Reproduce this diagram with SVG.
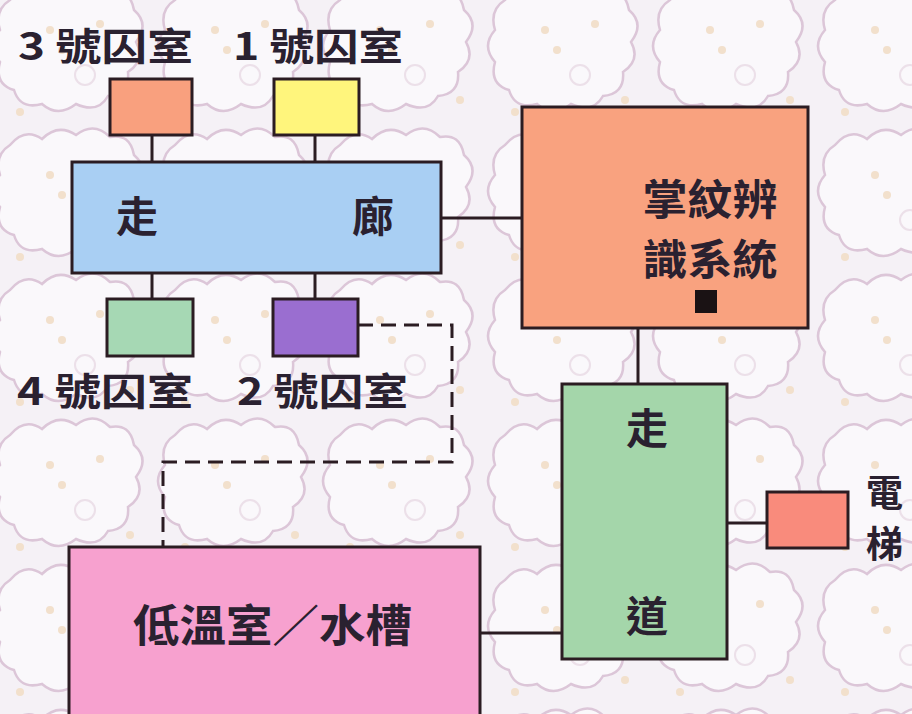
<svg xmlns="http://www.w3.org/2000/svg" width="912" height="714" viewBox="0 0 912 714">
  <defs>
    <pattern id="bgpat" x="-10" y="-20" width="165" height="145" patternUnits="userSpaceOnUse">
      <rect width="165" height="145" fill="#f5f1f6"/>
      <path d="M20 20 q15 -18 32 -6 q16 -16 34 -4 q18 -14 34 2 q20 -4 24 18 q16 14 2 32 q10 18 -8 30 q2 22 -20 24 q-10 18 -32 8 q-18 14 -34 0 q-22 6 -28 -14 q-20 -6 -14 -28 q-14 -16 0 -32 q-6 -20 10 -30 z" fill="#faf8fb" stroke="#dcc6d8" stroke-width="2.5"/>
      <circle cx="60" cy="50" r="4" fill="#f2e0cc"/>
      <circle cx="72" cy="70" r="4" fill="#f2e0cc"/>
      <circle cx="110" cy="44" r="4" fill="#f2e0cc"/>
      <circle cx="140" cy="120" r="4" fill="#f2e0cc"/>
      <circle cx="30" cy="132" r="4" fill="#f2e0cc"/>
      <circle cx="95" cy="95" r="10" fill="none" stroke="#ece0e9" stroke-width="2"/>
    </pattern>
  </defs>
  <style>
    .box { stroke: #2b1c22; stroke-width: 3; }
    .conn { stroke: #2b1c22; stroke-width: 3; fill: none; }
    .dash { stroke: #2b1c22; stroke-width: 3; fill: none; stroke-dasharray: 15 8; }
    .t { font-family: "Noto Sans CJK TC", "Noto Sans CJK JP", "Noto Sans", sans-serif; font-weight: 700; fill: #2a2130; }
  </style>
  <rect width="912" height="714" fill="url(#bgpat)"/>

  <g id="connectors">
    <line class="conn" x1="152" y1="135" x2="152" y2="162"/>
    <line class="conn" x1="315" y1="135" x2="315" y2="162"/>
    <line class="conn" x1="152" y1="273" x2="152" y2="299"/>
    <line class="conn" x1="315" y1="273" x2="315" y2="299"/>
    <line class="conn" x1="441" y1="218" x2="522" y2="218"/>
    <line class="conn" x1="638" y1="328" x2="638" y2="384"/>
    <line class="conn" x1="727" y1="523" x2="767" y2="523"/>
    <line class="conn" x1="480" y1="633" x2="562" y2="633"/>
    <path class="dash" d="M358 325 H452 V462 H163 V547"/>
  </g>

  <g id="cell3">
    <rect class="box" x="110" y="79" width="82" height="56" fill="#f9a07e"/>
    <text class="t" x="18" y="60" font-size="38" textLength="175" lengthAdjust="spacingAndGlyphs">3 號囚室</text>
  </g>
  <g id="cell1">
    <rect class="box" x="274" y="79" width="85" height="56" fill="#fff57c"/>
    <text class="t" x="233" y="60" font-size="38" textLength="170" lengthAdjust="spacingAndGlyphs">1 號囚室</text>
  </g>
  <g id="corridor">
    <rect class="box" x="72" y="162" width="369" height="111" fill="#a9cff3"/>
    <text class="t" x="137" y="232" font-size="42" text-anchor="middle">走</text>
    <text class="t" x="373" y="232" font-size="42" text-anchor="middle">廊</text>
  </g>
  <g id="cell4">
    <rect class="box" x="107" y="299" width="86" height="57" fill="#a6d8b4"/>
    <text class="t" x="17" y="405" font-size="38" textLength="176" lengthAdjust="spacingAndGlyphs">4 號囚室</text>
  </g>
  <g id="cell2">
    <rect class="box" x="273" y="299" width="85" height="57" fill="#9a6ed0"/>
    <text class="t" x="237" y="405" font-size="38" textLength="171" lengthAdjust="spacingAndGlyphs">2 號囚室</text>
  </g>
  <g id="palmprint">
    <rect class="box" x="522" y="107" width="286" height="221" fill="#f9a27f"/>
    <text class="t" x="710" y="215" font-size="42" text-anchor="middle" textLength="135" lengthAdjust="spacingAndGlyphs">掌紋辨</text>
    <text class="t" x="710" y="275" font-size="42" text-anchor="middle" textLength="135" lengthAdjust="spacingAndGlyphs">識系統</text>
    <rect x="695" y="290" width="22" height="23" fill="#1a1214"/>
  </g>
  <g id="walkway">
    <rect class="box" x="562" y="384" width="165" height="275" fill="#a4d6aa"/>
    <text class="t" x="647" y="444" font-size="42" text-anchor="middle">走</text>
    <text class="t" x="647" y="632" font-size="42" text-anchor="middle">道</text>
  </g>
  <g id="elevator">
    <rect class="box" x="767" y="492" width="81" height="56" fill="#f98b7c"/>
    <text class="t" x="866" y="507" font-size="37">電</text>
    <text class="t" x="866" y="558" font-size="37">梯</text>
  </g>
  <g id="coldroom">
    <rect class="box" x="69" y="547" width="411" height="175" fill="#f7a1cf"/>
    <text class="t" x="133" y="642" font-size="44" textLength="279" lengthAdjust="spacingAndGlyphs">低溫室／水槽</text>
  </g>
</svg>
